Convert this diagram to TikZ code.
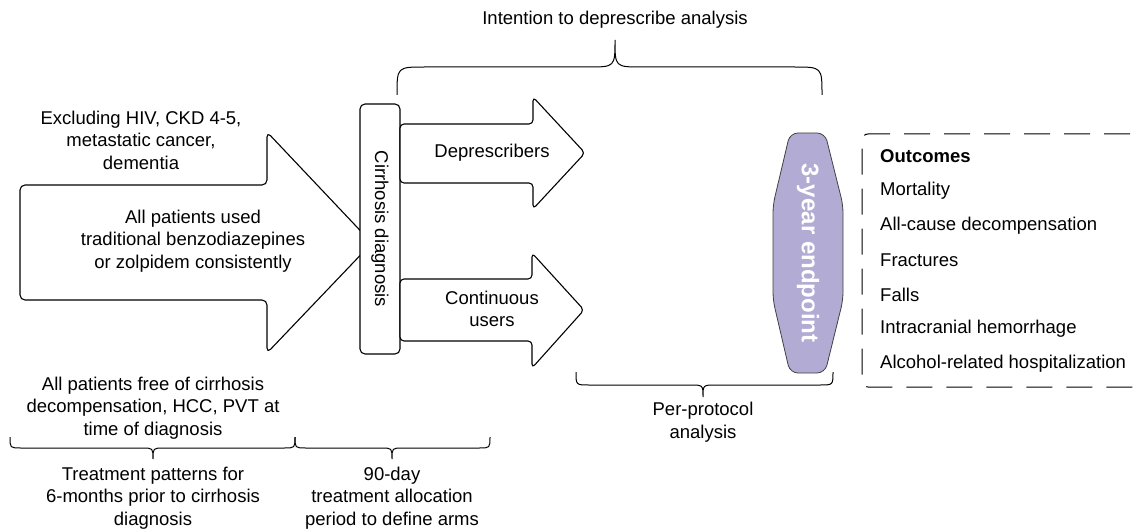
\documentclass[tikz,border=0pt]{standalone}
\usepackage{fontspec}
\setmainfont{Liberation Sans}
\definecolor{lav}{HTML}{B2ABD4}
\tikzset{
  shp/.style={draw=black, line width=1.1pt, fill=white, rounded corners=5pt, line join=round},
  txt/.style={font=\fontsize{18.5}{22.5}\selectfont, align=center, inner sep=0pt},
  brc/.style={draw=black, line width=1pt},
  outc/.style={font=\fontsize{18.5}{22.5}\selectfont, anchor=west, inner sep=0pt},
}
\begin{document}
\begin{tikzpicture}[x=1pt,y=-1pt]
\useasboundingbox (0,0) rectangle (1140,532);
\clip (0,0) rectangle (1140,532);

% big arrow
\draw[shp] (20,185) -- (267,185) -- (267,132) -- (372,243) -- (267,353) -- (267,300) -- (20,300) -- cycle;
\node[txt] (alltxt) at (193,241) {All patients used\\traditional benzodiazepines\\or zolpidem consistently};
\node[txt] (excl) at (141,140) {Excluding HIV, CKD 4-5,\\metastatic cancer,\\dementia};

% cirrhosis box
\node[shp, rotate=-90, minimum width=250pt, minimum height=40pt, inner sep=0pt,
      font=\fontsize{18.5}{22.5}\selectfont] (cd) at (380,229) {Cirrhosis diagnosis};

% small arrows
\draw[shp, rounded corners=4pt] (400,124) -- (533,124) -- (533,97) -- (585,153) -- (533,209) -- (533,183) -- (400,183) -- cycle;
\node[txt] (dep) at (492,153) {Deprescribers};
\draw[shp, rounded corners=4pt] (400,279) -- (532,279) -- (532,253) -- (584,310) -- (532,368) -- (532,341) -- (400,341) -- cycle;
\node[txt] (cont) at (492,309) {Continuous\\users};

% endpoint
\draw[draw=black!75, line width=0.8pt, fill=lav, rounded corners=8pt]
  (790,133) -- (825,133) -- (843,205) -- (843,300) -- (825,373) -- (790,373) -- (773,300) -- (773,205) -- cycle;
\node[rotate=-90, text=white, font=\fontsize{24}{28}\selectfont\bfseries, inner sep=0pt] (ep) at (808,253) {3-year endpoint};

% outcomes box
\draw[line width=1pt, rounded corners=6pt, dash pattern=on 26pt off 14pt]
  (1170,134) -- (862,134) -- (862,387) -- (1170,387);
\node[outc, font=\fontsize{18.5}{22.5}\selectfont\bfseries] (o0) at (880,156) {Outcomes};
\node[outc] (o1) at (880,191) {Mortality};
\node[outc] (o2) at (880,226) {All-cause decompensation};
\node[outc] (o3) at (880,260) {Fractures};
\node[outc] (o4) at (880,295) {Falls};
\node[outc] (o5) at (880,329) {Intracranial hemorrhage};
\node[outc] (o6) at (880,364) {Alcohol-related hospitalization};

% top brace
\draw[brc] (397,95) .. controls (397,67) .. (425,67) -- (588,67) .. controls (615,67) .. (615,40)
  .. controls (615,67) .. (642,67) -- (794,67) .. controls (822,67) .. (822,95);
\node[txt] (itd) at (615,20) {Intention to deprescribe analysis};

% per-protocol brace
\draw[brc] (576,372) .. controls (576,385) .. (589,385) -- (690,385) .. controls (703,385) .. (703,397)
  .. controls (703,385) .. (716,385) -- (820,385) .. controls (833,385) .. (833,372);
\node[txt] (pp) at (703,422) {Per-protocol\\analysis};

% bottom braces
\draw[brc] (10,437) .. controls (10,448) .. (21,448) -- (142,448) .. controls (153,448) .. (153,459)
  .. controls (153,448) .. (164,448) -- (284,448) .. controls (295,448) .. (295,437);
\draw[brc] (295,437) .. controls (295,448) .. (306,448) -- (381,448) .. controls (392,448) .. (392,459)
  .. controls (392,448) .. (403,448) -- (479,448) .. controls (490,448) .. (490,437);

\node[txt] (free) at (153,408) {All patients free of cirrhosis\\decompensation, HCC, PVT at\\time of diagnosis};
\node[txt] (tp) at (153,498) {Treatment patterns for\\6-months prior to cirrhosis\\diagnosis};
\node[txt] (nd) at (392,498) {90-day\\treatment allocation\\period to define arms};
\end{tikzpicture}
\end{document}
